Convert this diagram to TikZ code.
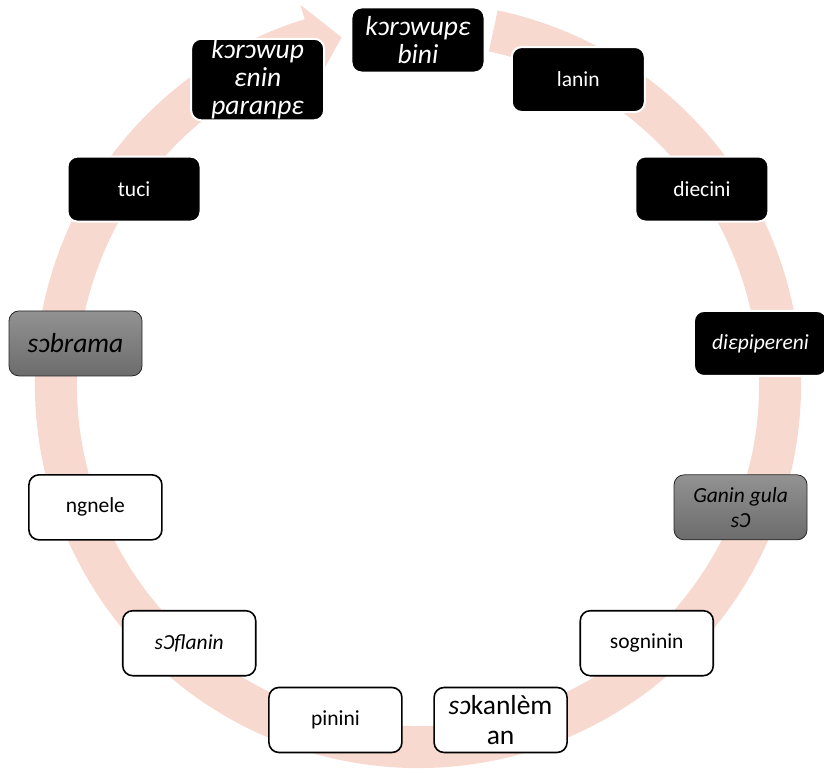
\documentclass[tikz,border=0pt]{standalone}
\usepackage{fontspec}
\setmainfont{Carlito}
\usepackage{tikz}
\usetikzlibrary{positioning}
\definecolor{ringpink}{RGB}{248,217,207}
\tikzstyle{cycbox} = [rectangle, rounded corners=10pt, minimum width=133pt, minimum height=65pt, inner sep=1pt, align=center, font=\fontsize{21.5}{25}\selectfont]
\tikzstyle{darkbox} = [cycbox, fill=black, draw=white, line width=2pt, text=white]
\tikzstyle{greybox} = [cycbox, draw=black!85, line width=0.8pt, top color={rgb,255:red,146;green,146;blue,146}, bottom color={rgb,255:red,108;green,108;blue,108}, text=black]
\tikzstyle{lightbox} = [cycbox, fill=white, draw=black, line width=1.6pt, text=black]
\tikzstyle{bigtext} = [font=\fontsize{27.5}{30}\selectfont]

\begin{document}
\begin{tikzpicture}[x=1pt, y=1pt]
    \useasboundingbox (-418,-387) rectangle (406,385);

    % circular arrow behind the boxes
    \fill [ringpink] (78:383) arc[start angle=78, end angle=-252.8, radius=383pt]
        -- (-252.8:398) -- (-257.6:356) -- (-252.8:326) -- (-252.8:341)
        arc[start angle=-252.8, end angle=78, radius=341pt] -- cycle;

    \node (bini) [darkbox, bigtext] at (90:345) {\textit{kɔrɔwupɛ}\\[-2pt]\textit{bini}};
    \node (lanin) [darkbox] at (62.31:345) {lanin};
    \node (diecini) [darkbox] at (34.62:345) {diecini};
    \node (pipereni) [darkbox] at (6.92:345) {\textit{diɛpipereni}};
    \node (gula) [greybox] at (-20.77:345) {\textit{Ganin gula}\\\textit{sƆ}};
    \node (sogninin) [lightbox] at (-48.46:345) {sogninin};
    \node (kanlem) [lightbox, bigtext] at (-76.15:345) {\textit{sɔ}kanlèm\\an};
    \node (pinini) [lightbox] at (-103.85:345) {pinini};
    \node (flanin) [lightbox] at (-131.54:345) {\textit{sƆflanin}};
    \node (ngnele) [lightbox] at (-159.23:345) {ngnele};
    \node (brama) [greybox, bigtext] at (-186.92:345) {\textit{sɔbrama}};
    \node (tuci) [darkbox] at (-214.6:345) {tuci};
    \node (paranpe) [darkbox, bigtext] at (-242.3:345) {\textit{kɔrɔwup}\\[-2pt]\textit{ɛnin}\\[-2pt]\textit{paranpɛ}};

\end{tikzpicture}
\end{document}
